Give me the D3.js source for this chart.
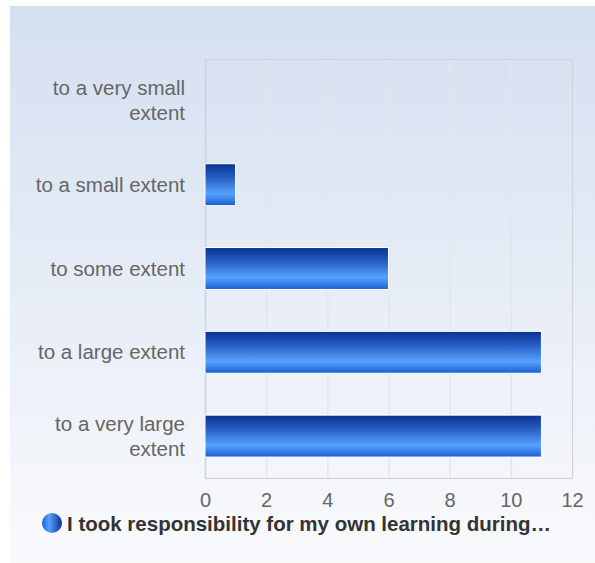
<!DOCTYPE html>
<html><head><meta charset="utf-8">
<script src="https://cdn.jsdelivr.net/npm/d3@7"></script>
<style>html,body{margin:0;padding:0;background:#fff;}svg{display:block;}</style>
</head><body>
<svg id="chart" width="595" height="563"></svg>
<script>
const categories = ["to a very small extent","to a small extent","to some extent","to a large extent","to a very large extent"];
const labelLines = [["to a very small","extent"],["to a small extent"],["to some extent"],["to a large extent"],["to a very large","extent"]];
const values = [0, 1, 6, 11, 11];
const xTicks = [0, 2, 4, 6, 8, 10, 12];
const seriesName = "I took responsibility for my own learning during…";

const FONT = "'Liberation Sans', Arial, sans-serif";
const svg = d3.select("#chart");
const defs = svg.append("defs");
const bg = defs.append("linearGradient").attr("id","bg").attr("x1",0).attr("y1",0).attr("x2",0).attr("y2",1);
bg.append("stop").attr("offset","0%").attr("stop-color","#d4dff0");
bg.append("stop").attr("offset","100%").attr("stop-color","#f9fafc");
const bar = defs.append("linearGradient").attr("id","bar").attr("x1",0).attr("y1",0).attr("x2",0).attr("y2",1);
bar.append("stop").attr("offset","0%").attr("stop-color","#0a3391");
bar.append("stop").attr("offset","30%").attr("stop-color","#2558bf");
bar.append("stop").attr("offset","72%").attr("stop-color","#55a2ff");
bar.append("stop").attr("offset","100%").attr("stop-color","#1a5cd0");
const leg = defs.append("linearGradient").attr("id","leg").attr("x1",0).attr("y1",0).attr("x2",1).attr("y2",0);
leg.append("stop").attr("offset","0%").attr("stop-color","#1a5cd0");
leg.append("stop").attr("offset","35%").attr("stop-color","#55a2ff");
leg.append("stop").attr("offset","100%").attr("stop-color","#0a3391");

svg.append("rect").attr("x",10).attr("y",6).attr("width",585).attr("height",557).attr("fill","url(#bg)");

const m = {left:205, right:572, top:59, bottom:478};
const x = d3.scaleLinear().domain([0,12]).range([m.left, m.right]);
const y = d3.scaleBand().domain(categories).range([m.top, m.bottom]).paddingInner(0.5).paddingOuter(0.25);

// grid
svg.append("g").selectAll("line").data(xTicks.slice(1,-1)).join("line")
  .attr("x1",d=>x(d)+0.5).attr("x2",d=>x(d)+0.5).attr("y1",m.top).attr("y2",m.bottom)
  .attr("stroke","#e3e5ea").attr("stroke-width",1.5);
// border
svg.append("rect").attr("x",m.left+0.5).attr("y",m.top+0.5).attr("width",m.right-m.left).attr("height",m.bottom-m.top)
  .attr("fill","none").attr("stroke","#d2d4d8").attr("stroke-width",1.2);
svg.append("line").attr("x1",m.left+0.5).attr("x2",m.left+0.5).attr("y1",m.top).attr("y2",m.bottom)
  .attr("stroke","#c8d4ea").attr("stroke-width",1.5);

// bars
svg.append("g").selectAll("rect").data(values).join("rect")
  .attr("x",x(0)).attr("y",(d,i)=>y(categories[i]))
  .attr("width",d=>x(d)-x(0)).attr("height",y.bandwidth())
  .attr("fill","url(#bar)").attr("stroke",d=>d>0?"#ffffff":"none").attr("stroke-width",1)
  .attr("display",d=>d>0?null:"none");

// category labels
const lab = svg.append("g").attr("font-family",FONT).attr("font-size",20.5).attr("fill","#666").attr("text-anchor","end");
categories.forEach((c,i)=>{
  const lines = labelLines[i];
  const cy = y(c) + y.bandwidth()/2;
  const lh = 25;
  const start = cy - (lines.length-1)*lh/2 + 7;
  lines.forEach((t,j)=>{
    lab.append("text").attr("x",185).attr("y",start + j*lh).text(t);
  });
});

// x axis tick labels
const xa = d3.axisBottom(x).tickValues(xTicks).tickSize(0).tickPadding(15);
const gx = svg.append("g").attr("transform",`translate(0,${m.bottom})`).call(xa);
gx.select(".domain").remove();
gx.selectAll("text").attr("font-family",FONT).attr("font-size",20).attr("fill","#666");

// legend
svg.append("circle").attr("cx",52).attr("cy",523).attr("r",10).attr("fill","url(#leg)");
svg.append("text").attr("x",67).attr("y",531).attr("font-family",FONT)
  .attr("font-size",20.5).attr("font-weight","bold").attr("fill","#333").text(seriesName);
</script>
</body></html>
